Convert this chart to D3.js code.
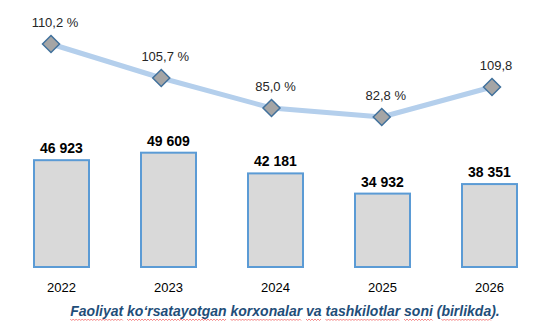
<!DOCTYPE html>
<html><head><meta charset="utf-8">
<script src="https://cdn.jsdelivr.net/npm/d3@7"></script>
<style>body{margin:0;background:#fff}svg{display:block}</style>
</head><body><svg id="c" width="552" height="330"></svg>
<script>
const years = ["2022","2023","2024","2025","2026"];
const counts = [46923, 49609, 42181, 34932, 38351];
const countLabels = ["46 923","49 609","42 181","34 932","38 351"];
const growthLabels = ["110,2 %","105,7 %","85,0 %","82,8 %","109,8"];
// plotted level of the growth line (hidden axis, 0-100)
const lineLevels = [86, 52, 22, 13, 43];
const title = "Faoliyat ko‘rsatayotgan korxonalar va tashkilotlar soni (birlikda).";
const underlined = ["Faoliyat","ko‘rsatayotgan","korxonalar","va","tashkilotlar","soni","birlikda"];

const svg = d3.select("#c");
const font = "'Liberation Sans', Arial, sans-serif";

const x = d3.scaleBand().domain(years).range([8, 543]).paddingInner(0.486).paddingOuter(0.243);
const y = d3.scaleLinear().domain([8600, 50000]).range([267, 151.6]);
const xl = d3.scalePoint().domain(years).range([51, 492]);
const yl = d3.scaleLinear().domain([0, 100]).range([130, 30]);

// bars
svg.append("g").selectAll("rect").data(years).join("rect")
  .attr("x", d => x(d)).attr("width", x.bandwidth())
  .attr("y", (d,i) => y(counts[i])).attr("height", (d,i) => y(8600) - y(counts[i]))
  .attr("fill", "#d9d9d9").attr("stroke", "#5b9bd5").attr("stroke-width", 2);

svg.append("g").selectAll("text").data(years).join("text")
  .attr("x", d => x(d) + x.bandwidth()/2).attr("y", (d,i) => y(counts[i]) - 7)
  .attr("text-anchor", "middle").attr("font-family", font).attr("font-weight", "bold")
  .attr("font-size", 14).attr("fill", "#000").text((d,i) => countLabels[i]);

// x axis labels
const ax = svg.append("g").attr("transform", "translate(0,283)")
  .call(d3.axisBottom(x).tickSize(0).tickPadding(0));
ax.select(".domain").remove();
ax.selectAll("text").attr("font-family", font).attr("font-size", 13).attr("fill", "#000");

// line
const line = d3.line().x((d,i) => xl(years[i])).y(d => yl(d));
svg.append("path").datum(lineLevels).attr("d", line)
  .attr("fill", "none").attr("stroke", "#b4cfec").attr("stroke-width", 5)
  .attr("stroke-linejoin", "round");

svg.append("g").selectAll("path").data(lineLevels).join("path")
  .attr("transform", (d,i) => `translate(${xl(years[i])},${yl(d)})`)
  .attr("d", "M0,-8.5L8.5,0L0,8.5L-8.5,0Z")
  .attr("fill", "#a5a5a5").attr("stroke", "#41719c").attr("stroke-width", 1.5);

svg.append("g").selectAll("text").data(lineLevels).join("text")
  .attr("x", (d,i) => xl(years[i]) + 4).attr("y", d => yl(d) - 17)
  .attr("text-anchor", "middle").attr("font-family", font)
  .attr("font-size", 13).attr("fill", "#262626").text((d,i) => growthLabels[i]);

// title
const t = svg.append("text").attr("x", 285).attr("y", 316).attr("text-anchor", "middle")
  .attr("font-family", font).attr("font-weight", "bold").attr("font-style", "italic")
  .attr("font-size", 14).attr("fill", "#1f4e79").text(title);
const node = t.node();
const bb = node.getBBox();
underlined.forEach(w => {
  const idx = title.indexOf(w);
  const x0 = bb.x + (idx > 0 ? node.getSubStringLength(0, idx) : 0);
  const wl = node.getSubStringLength(idx, w.length);
  const pts = [];
  for (let px = 0; px <= wl; px += 1.5) pts.push([x0 + px, 319.5 + ((Math.round(px/1.5)) % 2 ? 1 : -0.5)]);
  svg.append("path").attr("d", d3.line()(pts)).attr("fill", "none")
    .attr("stroke", "#f04040").attr("stroke-width", 0.8).attr("opacity", 0.8);
});
</script></body></html>
